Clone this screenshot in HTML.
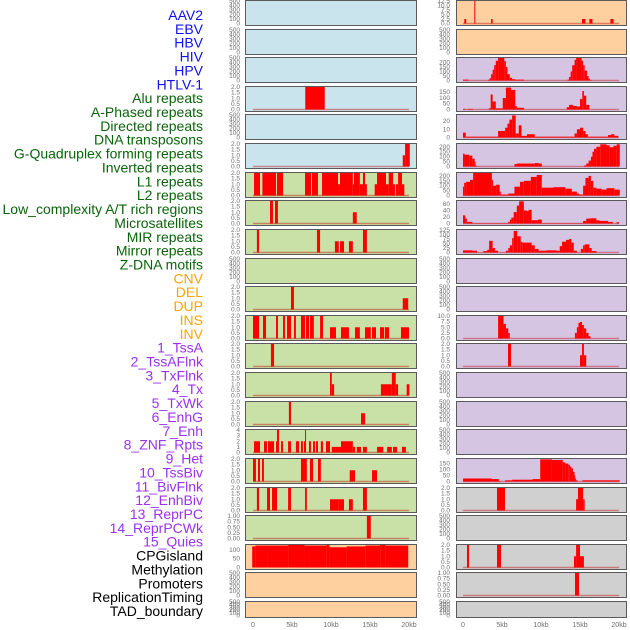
<!DOCTYPE html>
<html><head><meta charset="utf-8">
<style>
html,body{margin:0;padding:0;background:#fff;}
svg{display:block;font-family:"Liberation Sans",sans-serif;}
</style></head>
<body>
<svg id="chart" width="630" height="630" viewBox="0 0 630 630" xmlns="http://www.w3.org/2000/svg">
<g id="labels"></g>
<g id="panels"></g>
<g id="xaxes"></g>
</svg>
<script>
// ---- track labels ----
const trackNames = ["AAV2","EBV","HBV","HIV","HPV","HTLV-1","Alu repeats","A-Phased repeats","Directed repeats","DNA transposons","G-Quadruplex forming repeats","Inverted repeats","L1 repeats","L2 repeats","Low_complexity A/T rich regions","Microsatellites","MIR repeats","Mirror repeats","Z-DNA motifs","CNV","DEL","DUP","INS","INV","1_TssA","2_TssAFlnk","3_TxFlnk","4_Tx","5_TxWk","6_EnhG","7_Enh","8_ZNF_Rpts","9_Het","10_TssBiv","11_BivFlnk","12_EnhBiv","13_ReprPC","14_ReprPCWk","15_Quies","CPGisland","Methylation","Promoters","ReplicationTiming","TAD_boundary"];
const trackGroups = [0,0,0,0,0,0,1,1,1,1,1,1,1,1,1,1,1,1,1,2,2,2,2,2,3,3,3,3,3,3,3,3,3,3,3,3,3,3,3,4,4,4,4,4];
const xTickValues = [0,5,10,15,20];
const xTickLabels = ["0","5kb","10kb","15kb","20kb"];

// ---- left column data: [startKb, endKb, value] ----
const L3_bars = [[6.7,9.2,2]];
const L5_bars = [[19.2,19.5,1],[19.5,20.1,2]];
const L6_bars = [[0.13,0.9,2],[1.2,2.95,2],[3.08,3.85,2],[6.67,7.44,2],[7.56,8.33,2],[8.85,10.9,2],[10.9,11.15,1],[11.15,12.8,2],[12.8,12.95,1],[12.95,13.7,2],[13.7,14.1,1],[14.1,14.36,2],[14.36,14.6,1],[15.6,15.9,1],[15.9,17.05,2],[17.05,17.4,1],[17.4,17.95,2],[17.95,18.2,1],[18.3,18.6,1],[18.6,19.1,2],[19.1,19.4,1]];
const L7_bars = [[2.18,2.56,2],[2.82,3.2,2],[12.8,13.3,1]];
const L8_bars = [[0.5,0.77,2],[8.2,8.6,2],[10.5,11,1],[11.15,11.67,1],[12.3,12.8,1],[14.1,14.6,2]];
const L10_bars = [[4.87,5.25,2],[19.2,19.9,1]];
const L11_bars = [[0,0.77,2],[1.28,1.67,2],[2.95,3.2,2],[3.85,4.1,2],[4.36,4.87,2],[5.26,5.5,2],[6.15,6.67,2],[6.8,7.18,2],[7.3,7.8,2],[8.6,8.97,2],[9.87,10.64,1],[11.28,12.3,1],[13.08,13.7,1],[14.36,15.1,1],[15.26,15.77,1],[16.28,16.8,1],[16.9,17.44,1],[18.97,20,1]];
const L12_bars = [[2.3,2.7,2]];
const L13_bars = [[9.87,10.1,2],[10.1,10.4,1],[16.4,17.8,1],[17.8,18.3,2],[18.3,18.6,1],[19.7,20.05,1]];
const L14_bars = [[4.6,4.87,2],[13.85,14.36,1]];
const L15_bars = [[0.13,0.9,2],[1.41,1.8,2],[1.92,2.7,2],[2.95,3.08,2],[3.08,3.33,4],[3.6,3.85,2],[4.5,4.87,2],[5.5,5.9,2],[6.15,6.4,2],[6.54,6.67,2],[6.67,6.8,4],[7.18,7.44,2],[7.7,7.95,2],[8.08,8.33,2],[8.7,8.97,2],[9.36,9.87,2],[10.1,11.15,1],[11.28,12.8,2],[11.15,11.28,1],[12.8,13.08,1],[13.3,13.85,1],[14.1,14.6,1],[15.9,16.7,1],[17.2,17.8,1],[17.95,18.46,1],[19.1,19.6,1]];
const L16_bars = [[0,0.38,2],[0.64,0.9,2],[1.15,1.4,2],[6.15,6.9,2],[7.3,7.7,2],[8.33,8.7,2],[12.4,13.08,1],[15.26,15.9,1]];
const L17_bars = [[0.5,0.77,2],[1.8,2.18,2],[2.44,3.08,2],[4.5,4.87,2],[6.67,6.9,2],[9.87,11,1],[11,11.67,1],[12.3,12.8,1],[14.1,14.6,2]];
const L18_bars = [[14.6,15.1,1]];
const L19_bars = [[-0.1,0.3,120],[0.3,1.8,125],[1.8,4.5,125],[4.5,6.6,128],[6.6,9.4,125],[9.4,9.8,128],[9.8,12,115],[12,14.4,120],[14.4,16.3,125],[16.3,17,128],[17,19.9,125]];

// ---- right column data ----
const R0_bars = [[0.17,0.42,2.5],[1.45,1.58,12.5],[3.6,3.8,2.5],[15.26,15.7,2.5],[16.2,16.6,2.5],[18.9,19.3,2.5]];
const R2_bars = [[0,0.7,10],[3.2,3.4,8],[3.4,3.6,25],[3.6,3.8,70],[3.8,4.0,120],[4.0,4.2,170],[4.2,4.5,220],[4.5,5.3,250],[5.3,5.5,215],[5.5,5.7,150],[5.7,6.0,70],[6.0,6.3,30],[6.3,6.7,15],[6.7,7.8,10],[13.4,13.6,10],[13.6,13.8,40],[13.8,14.0,100],[14.0,14.3,170],[14.3,14.5,230],[14.5,15.2,250],[15.2,15.4,220],[15.4,15.6,170],[15.6,15.9,110],[15.9,16.1,50],[16.1,16.3,20],[16.3,16.5,5]];
const R3_bars = [[0,0.3,5],[0.6,1.3,5],[3.3,3.55,10],[3.55,3.8,130],[3.8,4.2,70],[4.2,5.1,10],[5.1,5.5,100],[5.5,6.15,190],[6.15,6.7,170],[6.7,6.9,30],[6.9,7.8,15],[13.3,13.6,20],[13.6,14.1,40],[14.1,14.6,30],[14.6,15.0,25],[15.0,15.3,90],[15.3,15.5,160],[15.5,15.8,120],[15.8,16.2,40]];
const R4_bars = [[0,0.35,6],[0.35,4.5,1],[4.5,5.4,8],[5.4,5.7,12],[5.7,5.95,17],[5.95,6.3,22],[6.3,6.75,27],[6.75,6.9,5],[6.9,7.15,5],[7.15,7.5,15],[7.5,8.2,2],[8.2,9.2,4],[9.2,14.3,1],[14.3,14.6,5],[14.6,15,10],[15,15.4,12],[15.4,15.7,8],[15.7,16,4],[16,18.6,1],[18.6,19.0,3],[19.0,19.4,4],[19.4,19.9,2]];
const R5_bars = [[0,0.2,130],[0.2,0.8,120],[0.8,1.2,110],[1.2,1.5,80],[1.5,1.6,50],[1.6,1.75,10],[6.6,6.9,25],[6.9,9.2,30],[9.2,9.7,35],[9.7,10.1,30],[15.5,15.8,10],[15.8,16.1,30],[16.1,16.4,60],[16.4,16.6,100],[16.6,16.8,150],[16.8,17.1,180],[17.1,17.6,200],[17.6,18.4,225],[18.4,18.8,215],[18.8,19.3,195],[19.3,19.7,210],[19.7,20.1,225]];
const R6_bars = [[0,0.15,90],[0.15,0.4,130],[0.4,0.9,140],[0.9,1.3,160],[1.3,3.7,230],[3.7,3.85,160],[3.85,4.25,100],[4.25,4.7,110],[4.7,4.85,40],[4.85,5.4,10],[5.4,5.8,10],[5.8,6.6,20],[6.6,7.3,90],[7.3,7.8,140],[7.8,8.7,150],[8.7,9.45,190],[9.45,10.1,210],[10.1,11.6,80],[11.6,13.1,85],[13.1,13.95,70],[13.95,14.6,40],[14.6,14.9,20],[14.9,15.4,10],[15.4,15.7,100],[15.7,16.1,180],[16.1,16.4,200],[16.4,16.7,150],[16.7,17.1,80],[17.1,17.8,70],[17.8,18.4,60],[18.4,19.4,75],[19.4,20.1,60]];
const R7_bars = [[0,0.3,25],[0.3,0.5,15],[0.5,1.2,5],[1.2,5.8,1],[5.8,6.0,5],[6.0,6.2,12],[6.2,6.5,18],[6.5,6.9,35],[6.9,7.2,55],[7.2,7.8,68],[7.8,8.2,40],[8.2,8.4,38],[8.4,8.8,42],[8.8,9.6,10],[9.6,10.1,12],[10.1,15.4,1],[15.4,15.8,8],[15.8,16.3,15],[16.3,17.1,16],[17.1,17.5,10],[17.5,18.6,8],[18.6,19.2,5],[19.7,20,4]];
const R8_bars = [[0,1.2,12],[1.2,1.8,10],[2.6,3.1,8],[3.1,3.35,15],[3.35,3.8,65],[3.8,4.1,25],[4.1,4.5,10],[5.5,5.8,10],[5.8,6.0,25],[6.0,6.3,40],[6.3,6.5,80],[6.5,6.95,120],[6.95,7.4,90],[7.4,7.6,60],[7.6,8.8,55],[8.8,9.2,40],[9.2,9.7,20],[9.7,10.7,10],[10.7,12.0,12],[12.0,12.4,10],[12.4,12.7,35],[12.7,13.2,60],[13.2,13.6,70],[13.6,13.9,75],[13.9,14.2,55],[14.2,14.6,10],[15.1,15.4,20],[15.4,15.6,40],[15.6,16.2,45],[16.2,16.5,25],[16.5,17.1,8]];
const R11_bars = [[4.5,5.2,10],[5.2,5.5,6.5],[5.5,5.8,4.5],[5.8,6.0,2.5],[14.35,14.6,2.5],[14.6,14.8,5],[14.8,15.0,7],[15.0,15.26,7.3],[15.26,15.5,6],[15.5,15.8,4.5],[15.8,16.1,2.5],[16.1,16.35,1]];
const R12_bars = [[5.77,6.15,2],[15.0,15.26,1],[15.26,15.5,2],[15.5,15.8,1]];
const R16_bars = [[0,3.7,25],[3.7,4.6,20],[4.6,4.8,5],[5.4,6.3,10],[6.3,8.9,15],[8.9,9.9,20],[9.9,11.4,185],[11.4,12.8,180],[12.8,13.1,160],[13.1,13.5,150],[13.5,13.7,140],[13.7,13.9,125],[13.9,14.1,110],[14.1,14.3,80],[14.3,14.4,50],[14.4,14.5,25],[14.5,14.7,10],[15.3,20.1,10]];
const R17_bars = [[4.36,5.38,2],[14.5,14.74,1],[14.74,15.4,2],[15.4,15.6,1]];
const R19_bars = [[0.51,0.77,2],[4.36,4.87,2],[14.23,14.5,1],[14.5,15.0,2],[15.0,15.5,1]];
const R20_bars = [[14.36,14.87,1]];

// ---- y tick sets ----
const ticksEmpty = [0,100,200,300,400,500];
const ticks2 = [0,0.5,1,1.5,2];
const ticks1 = [0,0.25,0.5,0.75,1];
const ticks4 = [0,1,2,3,4];
const ticksCpg = [0,50,100];
const ticksR0 = [0,2.5,5,7.5,10,12.5];
const ticksR2 = [0,50,100,150,200];
const ticksR3 = [0,50,100,150];
const ticksR4 = [0,10,20];
const ticksR7 = [0,20,40,60];
const ticksR8 = [0,25,50,75,100,125];
const ticksR11 = [0,2.5,5,7.5,10];

const BG = {blue:"#c9e4ec",green:"#c9e1a6",orange:"#fecf9f",purple:"#d5c5e3",grey:"#d0d0d0"};
const leftTracks = [
 {bg:"blue",bars:null,ymax:500,ticks:ticksEmpty,d:0},{bg:"blue",bars:null,ymax:500,ticks:ticksEmpty,d:0},{bg:"blue",bars:null,ymax:500,ticks:ticksEmpty,d:0},
 {bg:"blue",bars:L3_bars,ymax:2,ticks:ticks2,d:1},{bg:"blue",bars:null,ymax:500,ticks:ticksEmpty,d:0},{bg:"blue",bars:L5_bars,ymax:2,ticks:ticks2,d:1},
 {bg:"green",bars:L6_bars,ymax:2,ticks:ticks2,d:1},{bg:"green",bars:L7_bars,ymax:2,ticks:ticks2,d:1},{bg:"green",bars:L8_bars,ymax:2,ticks:ticks2,d:1},
 {bg:"green",bars:null,ymax:500,ticks:ticksEmpty,d:0},{bg:"green",bars:L10_bars,ymax:2,ticks:ticks2,d:1},{bg:"green",bars:L11_bars,ymax:2,ticks:ticks2,d:1},
 {bg:"green",bars:L12_bars,ymax:2,ticks:ticks2,d:1},{bg:"green",bars:L13_bars,ymax:2,ticks:ticks2,d:1},{bg:"green",bars:L14_bars,ymax:2,ticks:ticks2,d:1},
 {bg:"green",bars:L15_bars,ymax:4,ticks:ticks4,d:0},{bg:"green",bars:L16_bars,ymax:2,ticks:ticks2,d:1},{bg:"green",bars:L17_bars,ymax:2,ticks:ticks2,d:1},
 {bg:"green",bars:L18_bars,ymax:1,ticks:ticks1,d:2},{bg:"orange",bars:L19_bars,ymax:128,ticks:ticksCpg,d:0,nobase:true},
 {bg:"orange",bars:null,ymax:500,ticks:ticksEmpty,d:0},{bg:"orange",bars:null,ymax:500,ticks:ticksEmpty,d:0}
];
const rightTracks = [
 {bg:"orange",bars:R0_bars,ymax:12.5,ticks:ticksR0,d:1},{bg:"orange",bars:null,ymax:500,ticks:ticksEmpty,d:0},
 {bg:"purple",bars:R2_bars,ymax:250,ticks:ticksR2,d:0},{bg:"purple",bars:R3_bars,ymax:195,ticks:ticksR3,d:0},
 {bg:"purple",bars:R4_bars,ymax:27.6,ticks:ticksR4,d:0},{bg:"purple",bars:R5_bars,ymax:228,ticks:ticksR2,d:0},
 {bg:"purple",bars:R6_bars,ymax:230,ticks:ticksR2,d:0},{bg:"purple",bars:R7_bars,ymax:69,ticks:ticksR7,d:0},
 {bg:"purple",bars:R8_bars,ymax:125,ticks:ticksR8,d:0},{bg:"purple",bars:null,ymax:500,ticks:ticksEmpty,d:0},
 {bg:"purple",bars:null,ymax:500,ticks:ticksEmpty,d:0},{bg:"purple",bars:R11_bars,ymax:10,ticks:ticksR11,d:1},
 {bg:"purple",bars:R12_bars,ymax:2,ticks:ticks2,d:1},{bg:"purple",bars:null,ymax:500,ticks:ticksEmpty,d:0},
 {bg:"purple",bars:null,ymax:500,ticks:ticksEmpty,d:0},{bg:"purple",bars:null,ymax:500,ticks:ticksEmpty,d:0},
 {bg:"purple",bars:R16_bars,ymax:188,ticks:ticksR3,d:0},{bg:"grey",bars:R17_bars,ymax:2,ticks:ticks2,d:1},
 {bg:"grey",bars:null,ymax:500,ticks:ticksEmpty,d:0},{bg:"grey",bars:R19_bars,ymax:2,ticks:ticks2,d:1},
 {bg:"grey",bars:R20_bars,ymax:1,ticks:ticks1,d:2},{bg:"grey",bars:null,ymax:500,ticks:ticksEmpty,d:0}
];

const NS = "http://www.w3.org/2000/svg";
const KB = 7.8;
function mk(tag, attrs, parent){ const e=document.createElementNS(NS,tag); for(const k in attrs) e.setAttribute(k,attrs[k]); parent.appendChild(e); return e; }
function rowTop(i){ return Math.round(i*28.62); }
function rowH(i){ return i===21 ? 16 : 25; }

// labels
const labelColors = ["#1010f0","#0a640a","#ffa500","#9a32f0","#000000"];
const gl = document.getElementById("labels");
const labelStep = 596/(trackNames.length-1);
trackNames.forEach((n,i)=>{
  const t = mk("text",{x:203,y:15+i*labelStep+5,"text-anchor":"end","font-size":"14",fill:labelColors[trackGroups[i]]},gl);
  
  
  t.textContent = n;
});

const gp = document.getElementById("panels");
function drawColumn(tracks, px0, pw, x0, tickRight, col){
  const xs = kb => x0 + kb*KB;
  tracks.forEach((tr,i)=>{
    const top = rowTop(i), h = rowH(i);
    const g = mk("g",{},gp);
    
    
    const y0 = top + h - 1.5, y1 = top + 1;
    const ys = v => y0 - v/tr.ymax*(y0-y1);
    const bg = mk("rect",{x:px0+0.5,y:top+0.5,width:pw,height:h,fill:BG[tr.bg],stroke:"#5a5a5a","stroke-width":1},g);
    
    
    tr.ticks.forEach(v=>{
      const t = mk("text",{x:tickRight,y:ys(v)+2,"text-anchor":"end","font-size":"6.5",fill:"#6e6e6e"},g);
      
      
      t.textContent = v.toFixed(tr.d);
    });
    if(tr.bars){
      if(!tr.nobase){
        const b = mk("line",{x1:xs(0),x2:xs(20),y1:y0,y2:y0,stroke:"rgba(190,20,20,0.45)","stroke-width":1.6},g);
        
        
      }
      tr.bars.forEach(s=>{
        const a = xs(s[0]), b2 = xs(s[1]);
        const r = mk("rect",{x:a,y:ys(s[2]),width:Math.max(0.8,b2-a),height:y0-ys(s[2]),fill:"#ff0000"},g);
        
        
      });
    }
  });
}
drawColumn(leftTracks, 245, 171, 253, 240, "left");
drawColumn(rightTracks, 456, 170, 463, 450, "right");

const gx = document.getElementById("xaxes");
[253,463].forEach(x0=>{
  xTickValues.forEach((v,i)=>{
    const t = mk("text",{x:x0+v*KB,y:627,"text-anchor":"middle","font-size":"7",fill:"#6e6e6e"},gx);
    
    
    t.textContent = xTickLabels[i];
  });
});
</script>
</body></html>
